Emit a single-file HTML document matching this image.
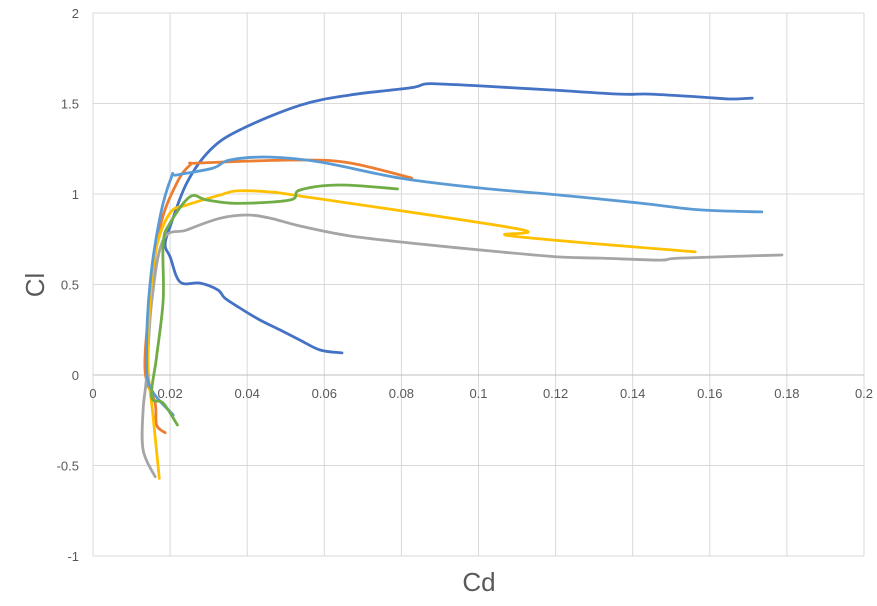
<!DOCTYPE html>
<html><head><meta charset="utf-8"><style>
body{margin:0;background:#fff;font-family:"Liberation Sans",sans-serif}
svg text{font-family:"Liberation Sans",sans-serif;fill:#595959}
</style></head><body>
<svg id="chart" width="877" height="601" xmlns="http://www.w3.org/2000/svg">
<g id="grid"></g><g id="ticks"></g><g id="series"></g>
<text x="479" y="591" font-size="26" text-anchor="middle">Cd</text>
<text x="44" y="285" font-size="26" text-anchor="middle" transform="rotate(-90 44 285)">Cl</text>
</svg>
<script>
const xTicks=[0,0.02,0.04,0.06,0.08,0.1,0.12,0.14,0.16,0.18,0.2];
const yTicks=[-1,-0.5,0,0.5,1,1.5,2];
const xTickLabels=["0","0.02","0.04","0.06","0.08","0.1","0.12","0.14","0.16","0.18","0.2"];
const yTickLabels=["-1","-0.5","0","0.5","1","1.5","2"];
const seriesNames=["s1","s2","s3","s4","s5","s6"];
const seriesColors=["#4472C4","#ED7D31","#A5A5A5","#FFC000","#5B9BD5","#70AD47"];
const s1Cd=[0.0646,0.0589,0.0537,0.0485,0.0433,0.0381,0.0342,0.0324,0.0278,0.0226,0.02,0.0187,0.02,0.0243,0.0304,0.0381,0.0537,0.0667,0.0822,0.0861,0.09,0.1004,0.1185,0.1367,0.1445,0.1575,0.1653,0.171];
const s1Cl=[0.122,0.138,0.193,0.249,0.304,0.37,0.425,0.47,0.508,0.514,0.653,0.718,0.82,1.06,1.243,1.354,1.49,1.547,1.586,1.608,1.608,1.597,1.575,1.552,1.552,1.536,1.525,1.53];
const s2Cd=[0.0187,0.0165,0.0161,0.0135,0.0148,0.0174,0.0217,0.0252,0.0278,0.0537,0.0667,0.0827];
const s2Cl=[-0.319,-0.276,-0.155,0.028,0.414,0.819,1.059,1.16,1.171,1.188,1.171,1.088];
const s3Cd=[0.0161,0.013,0.013,0.0139,0.0152,0.0182,0.0243,0.0329,0.0399,0.0459,0.0537,0.0667,0.0848,0.1056,0.1211,0.1315,0.1471,0.1523,0.1787];
const s3Cl=[-0.562,-0.414,-0.193,-0.009,0.4,0.746,0.801,0.866,0.884,0.867,0.823,0.768,0.724,0.68,0.652,0.646,0.635,0.646,0.663];
const s4Cd=[0.0172,0.0156,0.0143,0.0148,0.0165,0.02,0.0243,0.0329,0.0373,0.0459,0.0537,0.1102,0.1087,0.1562];
const s4Cl=[-0.571,-0.23,0.046,0.414,0.709,0.895,0.939,0.994,1.017,1.011,0.989,0.807,0.768,0.68];
const s5Cd=[0.0208,0.0148,0.0139,0.0148,0.0174,0.0204,0.0217,0.0311,0.0355,0.0459,0.0589,0.0796,0.1004,0.1211,0.1419,0.1575,0.1735];
const s5Cl=[-0.221,-0.066,0.138,0.508,0.875,1.096,1.105,1.143,1.188,1.204,1.177,1.088,1.033,0.994,0.95,0.912,0.901];
const s6Cd=[0.0219,0.0182,0.0152,0.0165,0.0182,0.0182,0.02,0.0252,0.0295,0.0373,0.0511,0.0537,0.064,0.079];
const s6Cl=[-0.276,-0.155,-0.12,0.101,0.414,0.727,0.84,0.985,0.967,0.948,0.967,1.022,1.05,1.028];
const allCd=[s1Cd,s2Cd,s3Cd,s4Cd,s5Cd,s6Cd], allCl=[s1Cl,s2Cl,s3Cl,s4Cl,s5Cl,s6Cl];
const X0=93,X1=864,Y0=556,Y1=13;
const xs=v=>X0+(v-0)/(0.2)*(X1-X0);
const ys=v=>Y0-(v+1)/3*(Y0-Y1);
const NS="http://www.w3.org/2000/svg";
function mk(t,a,p){const e=document.createElementNS(NS,t);for(const k in a)e.setAttribute(k,a[k]);p.appendChild(e);return e;}
function smooth(P){let d='M'+P[0][0].toFixed(1)+','+P[0][1].toFixed(1);const k=0.17;
for(let i=0;i<P.length-1;i++){const p0=P[i-1]||P[i],p1=P[i],p2=P[i+1],p3=P[i+2]||p2;
const c1=[p1[0]+(p2[0]-p0[0])*k,p1[1]+(p2[1]-p0[1])*k],c2=[p2[0]-(p3[0]-p1[0])*k,p2[1]-(p3[1]-p1[1])*k];
d+=' C'+c1.map(v=>v.toFixed(1)).join(',')+' '+c2.map(v=>v.toFixed(1)).join(',')+' '+p2.map(v=>v.toFixed(1)).join(',');}
return d;}
const grid=document.getElementById('grid'),ticks=document.getElementById('ticks'),ser=document.getElementById('series');
xTicks.forEach((v,i)=>{if(i>0){const l=mk('line',{x1:xs(v),x2:xs(v),y1:Y1,y2:Y0,stroke:'#d9d9d9'},grid);

}
const t=mk('text',{x:xs(v),y:ys(0)+23,'font-size':13,'text-anchor':'middle'},ticks);t.textContent=xTickLabels[i];

});
yTicks.forEach((v,i)=>{const l=mk('line',{x1:X0,x2:X1,y1:ys(v),y2:ys(v),stroke:v===0?'#bfbfbf':'#d9d9d9'},grid);


const t=mk('text',{x:X0-14,y:ys(v)+5,'font-size':13,'text-anchor':'end'},ticks);t.textContent=yTickLabels[i];

});
const ya=mk('line',{x1:X0,x2:X0,y1:Y1,y2:Y0,stroke:'#d9d9d9'},grid);


allCd.forEach((cd,i)=>{const P=cd.map((v,j)=>[xs(v),ys(allCl[i][j])]);
const p=mk('path',{d:smooth(P),fill:'none',stroke:seriesColors[i],'stroke-width':2.8,'stroke-linejoin':'round','stroke-linecap':'round'},ser);

});
</script>
</body></html>
